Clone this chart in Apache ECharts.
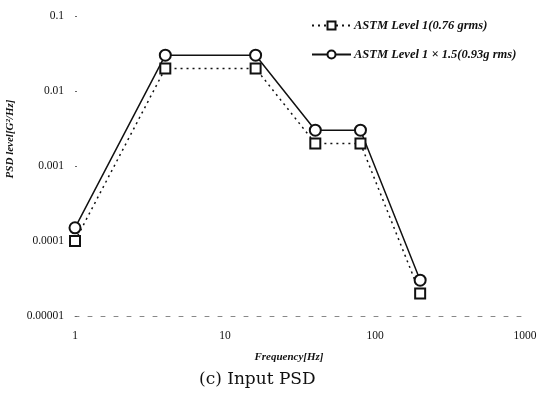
<!DOCTYPE html>
<html>
<head>
<meta charset="utf-8">
<script src="https://cdn.jsdelivr.net/npm/echarts@6/dist/echarts.min.js"></script>
<style>
  html, body { margin: 0; padding: 0; background: #fff; }
  #main { width: 540px; height: 399px; }
</style>
</head>
<body>
<div id="main"></div>
<script>
// frequencies (Hz)
var freq = [1, 4, 16, 40, 80, 200];
var level1 = [0.0001, 0.02, 0.02, 0.002, 0.002, 0.00002];
var level15 = [0.00015, 0.03, 0.03, 0.003, 0.003, 0.00003];
var xTickLabels = ['1', '10', '100', '1000'];
var yTickLabels = ['0.00001', '0.0001', '0.001', '0.01', '0.1'];
var seriesNames = ['ASTM Level 1(0.76 grms)', 'ASTM Level 1 \u00d7 1.5(0.93g rms)'];

function pairs(xs, ys) {
    var out = [];
    for (var i = 0; i < xs.length; i++) out.push([xs[i], ys[i]]);
    return out;
}

var serif = 'Liberation Serif';
var myChart = echarts.init(document.getElementById('main'));

var option = {
    animation: false,
    title: {
        text: '(c) Input PSD',
        left: 194,
        top: 366,
        textStyle: { fontFamily: 'DejaVu Serif', fontWeight: 'normal', fontSize: 17, color: '#111' }
    },
    legend: {
        data: seriesNames,
        orient: 'vertical',
        left: 306,
        top: 14,
        itemWidth: 39,
        itemHeight: 10,
        itemGap: 16,
        textStyle: { fontFamily: serif, fontStyle: 'italic', fontWeight: 'bold', fontSize: 12.5, color: '#111', padding: [0, 0, 0, -2] }
    },
    grid: { left: 75, right: 15, top: 16, bottom: 83, outerBoundsMode: 'none' },
    xAxis: {
        type: 'log',
        logBase: 10,
        min: 1,
        max: 1000,
        name: 'Frequency[Hz]',
        nameLocation: 'middle',
        nameGap: 36,
        nameTextStyle: { fontFamily: serif, fontStyle: 'italic', fontWeight: 'bold', fontSize: 11, color: '#111', padding: [0, 22, 0, 0] },
        axisLine: { show: true, lineStyle: { color: '#888', width: 1, type: [4, 9] } },
        axisTick: { show: false },
        splitLine: { show: false },
        minorTick: { show: false },
        axisLabel: {
            fontFamily: serif, fontSize: 11.5, color: '#111', margin: 14,
            formatter: function (v) { return xTickLabels[Math.round(Math.log10(v))]; }
        }
    },
    yAxis: {
        type: 'log',
        logBase: 10,
        min: 0.00001,
        max: 0.1,
        name: 'PSD level[G\u00b2/Hz]',
        nameLocation: 'middle',
        nameGap: 58,
        nameRotate: 90,
        nameTextStyle: { fontFamily: serif, fontStyle: 'italic', fontWeight: 'bold', fontSize: 11, color: '#111', padding: [0, 0, 0, 54] },
        axisLine: { show: false },
        axisTick: { show: true, inside: true, length: 2, lineStyle: { color: '#666' } },
        splitLine: { show: false },
        axisLabel: {
            fontFamily: serif, fontSize: 11.5, color: '#111', margin: 11,
            formatter: function (v) { return yTickLabels[Math.round(Math.log10(v)) + 5]; }
        }
    },
    series: [
        {
            name: seriesNames[0],
            type: 'line',
            data: pairs(freq, level1),
            symbol: 'emptyRect',
            symbolSize: 10,
            lineStyle: { color: '#111', width: 1.5, type: [2, 4] },
            itemStyle: { color: '#111', borderWidth: 1.3 }
        },
        {
            name: seriesNames[1],
            type: 'line',
            data: pairs(freq, level15),
            symbol: 'emptyCircle',
            symbolSize: 11,
            lineStyle: { color: '#111', width: 1.5 },
            itemStyle: { color: '#111', borderWidth: 1.3 }
        }
    ]
};
myChart.setOption(option);
</script>
</body>
</html>
